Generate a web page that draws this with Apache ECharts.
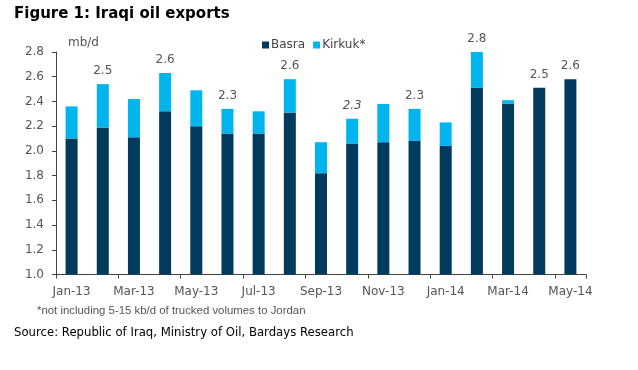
<!DOCTYPE html>
<html>
<head>
<meta charset="utf-8">
<script src="https://cdn.jsdelivr.net/npm/echarts@6/dist/echarts.min.js"></script>
<style>
html,body{margin:0;padding:0;background:#fff;}
#chart{width:638px;height:370px;}
</style>
</head>
<body>
<div id="chart"></div>
<script>
const months = ['Jan-13','Feb-13','Mar-13','Apr-13','May-13','Jun-13','Jul-13','Aug-13','Sep-13','Oct-13','Nov-13','Dec-13','Jan-14','Feb-14','Mar-14','Apr-14','May-14'];
const basra  = [2.10,2.19,2.11,2.32,2.20,2.14,2.14,2.31,1.82,2.06,2.07,2.08,2.04,2.51,2.38,2.51,2.58];
const kirkuk = [0.26,0.35,0.31,0.31,0.29,0.20,0.18,0.27,0.25,0.20,0.31,0.26,0.19,0.29,0.03,0,0];
const totalLabels = ['','2.5','','2.6','','2.3','','2.6','','2.3','','2.3','','2.8','','2.5','2.6'];
const yTicks = {min:1.0, max:2.8, step:0.2};

const chart = echarts.init(document.getElementById('chart'));
const FONT = 'DejaVu Sans';
chart.setOption({
  animation:false,
  backgroundColor:'#fff',
  textStyle:{fontFamily:FONT},
  grid:{left:56, right:52, top:52, bottom:95.5, containLabel:false},
  legend:{
    left:257, top:34, itemWidth:7, itemHeight:7, itemGap:8,
    icon:'rect',
    textStyle:{color:'#444', fontSize:12, fontFamily:FONT, padding:[0,0,0,-3]},
    data:['Basra','Kirkuk*']
  },
  xAxis:{
    type:'category', data:months,
    axisLine:{lineStyle:{color:'#444', width:1}},
    axisTick:{show:true, interval:1, length:4, lineStyle:{color:'#444'}},
    axisLabel:{interval:1, color:'#555', fontSize:12, margin:11, fontFamily:FONT}
  },
  yAxis:{
    type:'value', min:yTicks.min, max:yTicks.max, interval:yTicks.step,
    splitLine:{show:false},
    axisLine:{show:true, lineStyle:{color:'#444', width:1}},
    axisTick:{show:true, length:4, lineStyle:{color:'#444'}},
    axisLabel:{color:'#555', fontSize:12, margin:12, fontFamily:FONT,
      formatter:v=>v.toFixed(1)}
  },
  series:[
    {name:'Basra', type:'bar', stack:'t', data:basra, barWidth:12,
     itemStyle:{color:'#003A5C'}},
    {name:'Kirkuk*', type:'bar', stack:'t', data:kirkuk, barWidth:12,
     itemStyle:{color:'#00B4EE'},
     label:{show:true, position:'top', distance:7, color:'#555', fontSize:12, fontFamily:FONT,
       formatter:p=>{const t=totalLabels[p.dataIndex]; if(!t) return ''; return p.dataIndex===9?'{i|'+t+'}':t;},
       rich:{i:{fontStyle:'italic', color:'#555', fontSize:12, fontFamily:FONT}}}}
  ],
  graphic:[
    {type:'text', left:14, top:7, style:{text:'Figure 1: Iraqi oil exports', fontSize:15, fontWeight:'bold', fontFamily:FONT, fill:'#000'}},
    {type:'text', left:68, top:37, style:{text:'mb/d', fontSize:12, fontFamily:FONT, fill:'#555'}},
    {type:'text', left:37, top:305, style:{text:'*not including 5-15 kb/d of trucked volumes to Jordan', fontSize:11.4, fontFamily:'Liberation Sans', fill:'#555'}},
    {type:'text', left:14, top:327, style:{text:'Source: Republic of Iraq, Ministry of Oil, Bardays Research', fontSize:11.7, fontFamily:FONT, fill:'#000'}}
  ]
});
</script>
</body>
</html>
